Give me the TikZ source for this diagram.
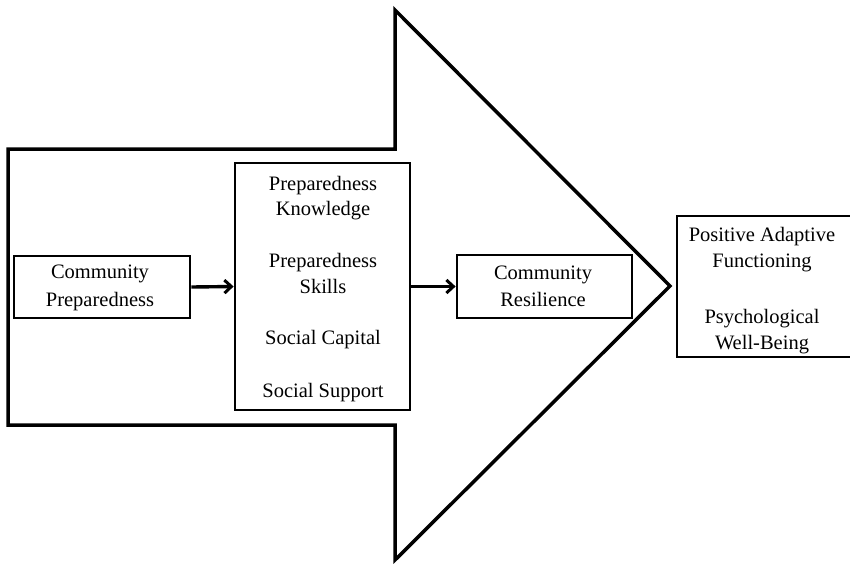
\documentclass[tikz,border=0pt]{standalone}
\usepackage{fontspec}
\setmainfont{Liberation Serif}
\usetikzlibrary{arrows.meta}
\begin{document}
\begin{tikzpicture}[x=1pt,y=-1pt,
  box/.style={draw=black,line width=2.8pt,fill=white,inner sep=0pt},
  lbl/.style={anchor=base,inner sep=0pt,font=\fontsize{20.5}{25}\selectfont},
  arr/.style={line width=3.4pt,-{Straight Barb[length=7pt,width=13pt,line width=3pt]}}]
\useasboundingbox[fill=white] (0,0) rectangle (850,563);
% big arrow
\draw[line width=3.5pt,line join=miter,miter limit=20]
  (8,149) -- (395,149) -- (395,10) -- (670,286) -- (395,560) -- (395,425) -- (8,425) -- cycle;
% boxes
\node[box,minimum width=176pt,minimum height=62pt] (cp) at (102,287) {};
\node[box,minimum width=175pt,minimum height=247pt] (mid) at (322.5,286.5) {};
\node[box,minimum width=175pt,minimum height=63pt] (cr) at (544.5,286.5) {};
\node[box,minimum width=174pt,minimum height=141pt] (out) at (764,286.5) {};
% labels
\node[lbl] (cp1) at (100,278) {Community};
\node[lbl] (cp2) at (100,306) {Preparedness};
\node[lbl] (m1) at (323,190) {Preparedness};
\node[lbl] (m2) at (323,215) {Knowledge};
\node[lbl] (m3) at (323,267) {Preparedness};
\node[lbl] (m4) at (323,293) {Skills};
\node[lbl] (m5) at (323,344) {Social Capital};
\node[lbl] (m6) at (323,397) {Social Support};
\node[lbl] (cr1) at (543,279) {Community};
\node[lbl] (cr2) at (543,306) {Resilience};
\node[lbl] (o1) at (762,241) {Positive Adaptive};
\node[lbl] (o2) at (762,267) {Functioning};
\node[lbl] (o3) at (762,323) {Psychological};
\node[lbl] (o4) at (762,349) {Well-Being};
% connectors
\draw[arr] (cp.east) -- (mid.west);
\draw[arr] (mid.east) -- (cr.west);
\end{tikzpicture}
\end{document}
